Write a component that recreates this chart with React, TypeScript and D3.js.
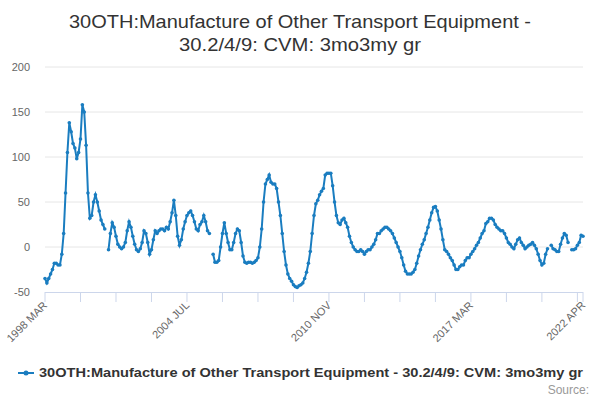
import React from "react";
import * as d3 from "d3";

const values: (number | null)[] = [
  -35,-40,-35,-30,-25,-18,-18,-20,-20,-8,
  15,60,105,138,128,115,110,98,105,120,158,150,
  113,60,32,35,50,58,50,40,30,25,20,
  null,-3,
  15,27,22,12,3,0,-2,0,5,18,28,22,
  12,3,-3,-5,-2,5,18,15,5,-8,-3,8,
  18,15,18,20,20,18,22,20,28,38,52,35,
  12,2,8,20,28,35,38,40,35,28,20,18,25,28,35,28,18,15,
  null,
  -8,-17,-17,-15,0,15,27,15,5,-3,-3,5,15,20,18,5,-10,-17,-18,-17,-17,-18,-17,-15,-12,0,20,50,
  70,75,80,72,70,70,65,50,35,15,-5,-20,-30,-35,-38,-42,-44,-45,-43,-42,-40,-35,-28,-18,-5,15,35,48,52,58,62,65,
  80,82,82,82,68,50,35,27,25,30,32,27,22,12,5,0,-3,-5,-5,-3,-5,-8,-5,-3,-3,0,3,8,15,15,
  18,20,22,22,20,18,15,10,5,0,-5,-12,-20,-27,-30,-30,-30,-28,-25,-18,-10,-3,3,8,15,22,30,38,44,45,40,30,20,8,-3,-5,-8,-12,-15,-20,-25,-25,-22,-20,-20,-15,-12,-12,-8,-5,-2,2,5,10,15,18,26,28,32,32,
  30,25,22,20,18,18,15,10,5,3,0,-2,3,8,10,5,2,-2,0,2,3,5,2,-2,-8,-15,-20,-18,-8,-2,null,2,-2,-3,-5,-5,3,10,15,13,5,null,-3,-3,-2,2,5,13,12,
];
const yTicks = [-50, 0, 50, 100, 150, 200];
const xLabelIdx = [0, 76, 152, 228, 288];
const xLabels = ["1998 MAR", "2004 JUL", "2010 NOV", "2017 MAR", "2022 APR"];
const title1 = "30OTH:Manufacture of Other Transport Equipment -";
const title2 = "30.2/4/9: CVM: 3mo3my gr";
const seriesName = "30OTH:Manufacture of Other Transport Equipment - 30.2/4/9: CVM: 3mo3my gr";

export default function App() {
  const W = 600, H = 400;
  const x = d3.scaleLinear().domain([0, 288]).range([45, 583]);
  const y = d3.scaleLinear().domain([-50, 200]).range([292, 67]);
  const color = "#1a7dc0";
  const line = d3.line<number | null>()
    .defined(d => d !== null)
    .x((_, i) => x(i))
    .y(d => y(d as number));
  const tickIdx = d3.range(0, 289, 19).concat([288]);
  const font = "'Liberation Sans', Arial, sans-serif";
  return (
    <svg width={W} height={H} style={{ position: "absolute", left: 0, top: 0, fontFamily: font }}>
      <rect width={W} height={H} fill="#fff" />
      <text x={300} y={28} textAnchor="middle" fontSize={19} fill="#333" textLength={462} lengthAdjust="spacingAndGlyphs">{title1}</text>
      <text x={300} y={51} textAnchor="middle" fontSize={19} fill="#333" textLength={242} lengthAdjust="spacingAndGlyphs">{title2}</text>
      {yTicks.map(t => (
        <g key={t}>
          {t !== -50 && <line x1={45} x2={583} y1={y(t)} y2={y(t)} stroke="#e6e6e6" />}
          <text x={30} y={y(t) + 4} textAnchor="end" fontSize={11} fill="#666">{t}</text>
        </g>
      ))}
      <line x1={45} x2={583} y1={292.5} y2={292.5} stroke="#ccd6eb" />
      {tickIdx.map((t, i) => (
        <line key={i} x1={x(t)} x2={x(t)} y1={292} y2={302} stroke="#ccd6eb" />
      ))}
      {xLabelIdx.map((t, i) => (
        <text key={i} transform={`translate(${x(t) + 3},${306}) rotate(-45)`} textAnchor="end" fontSize={11} fill="#666">{xLabels[i]}</text>
      ))}
      <path d={line(values) || ""} fill="none" stroke={color} strokeWidth={2} />
      {values.map((v, i) => v === null ? null : (
        <circle key={i} cx={x(i)} cy={y(v)} r={1.8} fill={color} />
      ))}
      <line x1={18} x2={34} y1={373} y2={373} stroke={color} strokeWidth={2} />
      <circle cx={26} cy={373} r={2.5} fill={color} />
      <text x={39} y={377} fontSize={12} fontWeight="bold" fill="#333" textLength={544} lengthAdjust="spacingAndGlyphs">{seriesName}</text>
      <text x={589} y={394} textAnchor="end" fontSize={12} fill="#999">Source:</text>
    </svg>
  );
}
